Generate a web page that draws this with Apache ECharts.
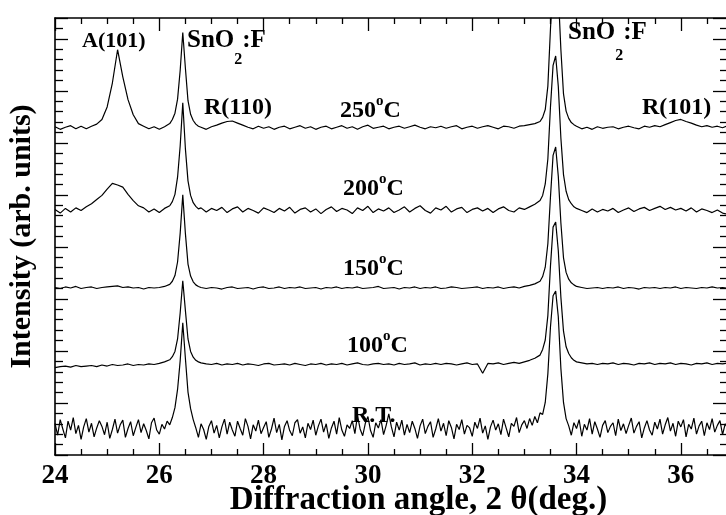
<!DOCTYPE html>
<html>
<head>
<meta charset="utf-8">
<title>XRD patterns</title>
<script src="https://cdn.jsdelivr.net/npm/echarts@6/dist/echarts.min.js"></script>
<style>
	html, body { margin: 0; padding: 0; background: #fff; }
	#chart { width: 726px; height: 515px; }
</style>
</head>
<body>
<div id="chart"></div>
<script>
// 2θ (deg.) sample positions, finer around the SnO2:F peaks
const angles = [
	24.0, 24.1, 24.2, 24.3, 24.4, 24.5, 24.6, 24.7, 24.8, 24.9,
	25.0, 25.1, 25.2, 25.3, 25.4, 25.5, 25.6, 25.7, 25.8, 25.9,
	26.0, 26.1, 26.2, 26.25, 26.3, 26.35, 26.4, 26.45, 26.5, 26.55,
	26.6, 26.65, 26.7, 26.75, 26.8, 26.9, 27.0, 27.1, 27.2, 27.3,
	27.4, 27.5, 27.6, 27.7, 27.8, 27.9, 28.0, 28.1, 28.2, 28.3,
	28.4, 28.5, 28.6, 28.7, 28.8, 28.9, 29.0, 29.1, 29.2, 29.3,
	29.4, 29.5, 29.6, 29.7, 29.8, 29.9, 30.0, 30.1, 30.2, 30.3,
	30.4, 30.5, 30.6, 30.7, 30.8, 30.9, 31.0, 31.1, 31.2, 31.3,
	31.4, 31.5, 31.6, 31.7, 31.8, 31.9, 32.0, 32.1, 32.2, 32.3,
	32.4, 32.5, 32.6, 32.7, 32.8, 32.9, 33.0, 33.1, 33.2, 33.3,
	33.35, 33.4, 33.45, 33.5, 33.55, 33.6, 33.65, 33.7, 33.75, 33.8,
	33.85, 33.9, 33.95, 34.0, 34.1, 34.2, 34.3, 34.4, 34.5, 34.6,
	34.7, 34.8, 34.9, 35.0, 35.1, 35.2, 35.3, 35.4, 35.5, 35.6,
	35.7, 35.8, 35.9, 36.0, 36.1, 36.2, 36.3, 36.4, 36.5, 36.6,
	36.7, 36.8, 36.9, 37.0
];

// the noisy R.T. scan is read on a denser 0.05 deg grid
const anglesRT = [
	24.00, 24.05, 24.10, 24.15, 24.20, 24.25, 24.30, 24.35, 24.40, 24.45, 24.50, 24.55, 24.60, 24.65, 24.70, 24.75, 24.80, 24.85, 24.90, 24.95,
	25.00, 25.05, 25.10, 25.15, 25.20, 25.25, 25.30, 25.35, 25.40, 25.45, 25.50, 25.55, 25.60, 25.65, 25.70, 25.75, 25.80, 25.85, 25.90, 25.95,
	26.00, 26.05, 26.10, 26.15, 26.20, 26.25, 26.30, 26.35, 26.40, 26.45, 26.50, 26.55, 26.60, 26.65, 26.70, 26.75, 26.80, 26.85, 26.90, 26.95,
	27.00, 27.05, 27.10, 27.15, 27.20, 27.25, 27.30, 27.35, 27.40, 27.45, 27.50, 27.55, 27.60, 27.65, 27.70, 27.75, 27.80, 27.85, 27.90, 27.95,
	28.00, 28.05, 28.10, 28.15, 28.20, 28.25, 28.30, 28.35, 28.40, 28.45, 28.50, 28.55, 28.60, 28.65, 28.70, 28.75, 28.80, 28.85, 28.90, 28.95,
	29.00, 29.05, 29.10, 29.15, 29.20, 29.25, 29.30, 29.35, 29.40, 29.45, 29.50, 29.55, 29.60, 29.65, 29.70, 29.75, 29.80, 29.85, 29.90, 29.95,
	30.00, 30.05, 30.10, 30.15, 30.20, 30.25, 30.30, 30.35, 30.40, 30.45, 30.50, 30.55, 30.60, 30.65, 30.70, 30.75, 30.80, 30.85, 30.90, 30.95,
	31.00, 31.05, 31.10, 31.15, 31.20, 31.25, 31.30, 31.35, 31.40, 31.45, 31.50, 31.55, 31.60, 31.65, 31.70, 31.75, 31.80, 31.85, 31.90, 31.95,
	32.00, 32.05, 32.10, 32.15, 32.20, 32.25, 32.30, 32.35, 32.40, 32.45, 32.50, 32.55, 32.60, 32.65, 32.70, 32.75, 32.80, 32.85, 32.90, 32.95,
	33.00, 33.05, 33.10, 33.15, 33.20, 33.25, 33.30, 33.35, 33.40, 33.45, 33.50, 33.55, 33.60, 33.65, 33.70, 33.75, 33.80, 33.85, 33.90, 33.95,
	34.00, 34.05, 34.10, 34.15, 34.20, 34.25, 34.30, 34.35, 34.40, 34.45, 34.50, 34.55, 34.60, 34.65, 34.70, 34.75, 34.80, 34.85, 34.90, 34.95,
	35.00, 35.05, 35.10, 35.15, 35.20, 35.25, 35.30, 35.35, 35.40, 35.45, 35.50, 35.55, 35.60, 35.65, 35.70, 35.75, 35.80, 35.85, 35.90, 35.95,
	36.00, 36.05, 36.10, 36.15, 36.20, 36.25, 36.30, 36.35, 36.40, 36.45, 36.50, 36.55, 36.60, 36.65, 36.70, 36.75, 36.80, 36.85, 36.90, 36.95,
	37.00
];

// intensities (arb. units) above each trace's own baseline
const int250 = [
	0.2, -0.3, 0.1, 0.4, -0.2, 0.3, -0.2, 0.3, 0.7, 1.6,
	4.0, 8.6, 15.0, 9.8, 5.4, 2.5, 0.8, 0.3, -0.2, 0.2,
	-0.3, 0.2, 0.8, 1.6, 2.8, 5.5, 11.0, 18.3, 11.5, 5.2,
	2.6, 1.4, 0.7, 0.3, 0.1, -0.3, 0.2, 0.5, 0.9, 1.2,
	1.3, 0.9, 0.5, 0.1, -0.2, 0.3, -0.1, 0.2, -0.3, 0.1,
	0.3, -0.2, 0.1, 0.4, -0.1, 0.2, -0.3, 0.1, 0.3, -0.2,
	0.1, 0.4, -0.1, 0.2, -0.3, 0.2, 0.5, -0.1, 0.1, 0.3,
	-0.2, 0.1, 0.3, -0.1, 0.2, 0.5, 0.1, -0.2, 0.2, 0.0,
	0.3, -0.1, 0.2, 0.4, -0.2, 0.1, 0.3, -0.1, 0.2, 0.4,
	0.1, -0.2, 0.3, 0.2, -0.1, 0.3, 0.4, 0.6, 0.8, 1.2,
	2.0, 3.5, 8.0, 19.0, 28.0, 32.0, 26.0, 15.0, 6.5, 3.2,
	1.8, 1.0, 0.6, 0.3, -0.2, 0.1, -0.3, 0.2, -0.1, 0.1,
	0.2, -0.2, 0.1, 0.3, 0.0, -0.2, 0.3, 0.1, 0.4, 0.2,
	0.6, 1.0, 1.4, 1.6, 1.2, 0.9, 0.5, 0.2, 0.4, 0.1,
	0.3, 0.0, 0.4, 0.2
];
const int200 = [
	0.3, -0.4, 0.5, -0.2, 0.6, 0.1, 0.8, 1.4, 2.2, 3.0,
	4.2, 5.3, 5.0, 4.6, 3.2, 2.0, 1.0, 0.6, -0.2, 0.4,
	-0.3, 0.5, 1.0, 1.8, 3.2, 6.5, 12.5, 20.8, 12.0, 5.8,
	3.0, 1.6, 0.9, 0.4, 0.6, -0.2, 0.5, 0.1, 0.7, -0.3,
	0.4, 0.8, -0.2, 0.5, 0.1, -0.4, 0.6, 0.2, -0.3, 0.5,
	0.0, 0.7, -0.4, 0.3, 0.6, -0.2, 0.4, -0.5, 0.3, 0.8,
	-0.1, 0.5, 0.2, -0.5, 0.6, 0.1, 0.9, -0.3, 0.4, 0.0,
	0.6, -0.3, 0.2, 0.8, -0.2, 0.5, 1.0, 0.1, -0.4, 0.6,
	0.2, 0.9, -0.2, 0.4, 0.7, -0.3, 0.3, 0.6, 0.0, 0.5,
	-0.3, 0.4, 0.8, 0.1, -0.2, 0.6, 0.3, 0.8, 1.3, 2.0,
	3.0, 5.2, 10.0, 20.0, 28.0, 29.8, 24.0, 14.0, 7.0, 3.8,
	2.2, 1.4, 0.8, 0.5, 0.1, -0.3, 0.4, -0.2, 0.3, 0.0,
	0.5, -0.3, 0.2, 0.6, -0.1, 0.4, 0.7, 0.1, 0.5, 0.9,
	0.3, 0.7, 0.2, 0.5, 0.0, 0.6, -0.2, 0.4, 0.1, -0.3,
	0.2, -0.4, -0.6, -0.5
];
const int150 = [
	0.1, -0.1, 0.2, 0.0, 0.3, -0.1, 0.1, 0.2, -0.1, 0.1,
	0.2, 0.3, 0.4, 0.1, 0.2, 0.0, 0.1, -0.2, 0.1, 0.0,
	0.1, 0.3, 0.7, 1.3, 2.4, 5.0, 10.5, 17.9, 10.5, 4.6,
	2.3, 1.2, 0.6, 0.3, 0.1, -0.1, 0.1, 0.0, -0.2, 0.1,
	0.2, -0.1, 0.0, 0.1, -0.2, 0.1, 0.2, -0.1, 0.0, 0.2,
	-0.1, 0.1, 0.0, 0.2, -0.1, 0.0, 0.1, -0.2, 0.1, 0.0,
	0.2, -0.1, 0.1, 0.0, 0.2, -0.1, 0.0, 0.1, 0.3, -0.1,
	0.0, 0.1, -0.2, 0.1, 0.0, 0.2, -0.1, 0.1, 0.0, 0.2,
	-0.1, 0.0, 0.2, 0.1, -0.1, 0.0, 0.1, 0.2, -0.1, 0.1,
	0.0, 0.2, -0.1, 0.1, 0.2, 0.0, 0.3, 0.5, 0.8, 1.3,
	2.2, 4.0, 8.5, 17.5, 25.5, 27.1, 21.5, 12.5, 5.8, 3.0,
	1.7, 1.0, 0.6, 0.3, 0.1, -0.1, 0.0, 0.1, -0.1, 0.1,
	0.0, 0.2, -0.1, 0.1, 0.0, -0.2, 0.1, 0.0, 0.1, -0.1,
	0.1, 0.0, 0.2, -0.1, 0.1, 0.0, -0.1, 0.1, 0.0, 0.2,
	0.0, 0.1, -0.1, 0.0
];
const int100 = [
	-0.5, -0.3, -0.2, -0.4, -0.1, -0.3, -0.2, -0.1, -0.3, 0.0,
	-0.2, 0.1, -0.1, 0.0, 0.2, -0.1, 0.1, 0.0, 0.2, 0.1,
	0.3, 0.6, 1.0, 1.6, 2.6, 5.0, 10.0, 16.2, 10.5, 5.0,
	2.6, 1.5, 0.9, 0.6, 0.4, 0.2, 0.1, 0.3, 0.0, 0.2,
	0.1, 0.3, 0.0, 0.2, 0.1, -0.1, 0.2, 0.3, 0.0, 0.1,
	0.2, 0.0, 0.3, 0.1, -0.1, 0.2, 0.1, 0.3, 0.0, 0.2,
	0.1, 0.3, 0.0, 0.2, 0.4, 0.1, 0.0, 0.2, 0.3, 0.1,
	0.2, 0.0, 0.3, 0.1, 0.2, 0.4, 0.0, 0.2, 0.1, 0.3,
	0.1, 0.3, 0.2, 0.0, 0.2, 0.4, 0.1, 0.2, -1.6, 0.3,
	0.2, 0.4, 0.1, 0.3, 0.5, 0.3, 0.6, 0.9, 1.3, 1.9,
	3.0, 4.8, 9.5, 19.0, 26.5, 27.5, 22.0, 13.0, 6.5, 3.5,
	2.2, 1.4, 0.9, 0.6, 0.4, 0.2, 0.3, 0.1, 0.3, 0.2,
	0.4, 0.1, 0.3, 0.2, 0.0, 0.3, 0.2, 0.4, 0.1, 0.3,
	0.2, 0.4, 0.1, 0.3, 0.2, 0.0, 0.3, 0.2, 0.4, 0.1,
	0.3, 0.2, 0.4, 0.1
];
const intRT = [
	1.5, -0.8, 2.2, 0.4, -1.3, 1.9, 0.2, 2.6, -0.5, 1.1, -1.6, 0.8, 2.4, -0.2, 1.5, -1.1, 0.6, 2.0, 0.9, -0.7,
	1.7, -1.4, 0.3, 2.3, -0.4, 1.2, 2.1, -1.2, 0.5, 1.8, -0.9, 0.7, 2.2, -0.3, 1.4, 0.1, -1.5, 1.6, 2.5, 0.2,
	-0.6, 1.3, 0.4, 1.9, 1.2, 2.6, 4.5, 8.0, 13.5, 20.8, 14.0, 7.5, 4.3, 2.2, 0.6, -1.2, 1.4, 0.3, -1.6, 0.9,
	2.0, -0.4, 1.1, -1.3, 0.8, 2.3, -0.6, 1.7, 0.2, -1.0, 1.9, 0.5, -0.8, 2.4, 0.9, -1.5, 1.2, 0.0, 2.1, -0.5,
	0.7, 1.8, -1.2, 0.4, 2.5, -0.3, 1.3, -1.7, 0.9, 2.0, 0.1, -0.9, 1.6, 2.2, -0.4, 0.8, -1.3, 1.5, 0.3, 2.1,
	-0.8, 1.0, 2.3, -0.2, 1.4, -1.4, 0.6, 1.9, -0.6, 2.6, 0.2, -1.0, 1.2, 0.5, 2.0, -0.5, 3.0, 0.4, -0.9, 1.5,
	2.8, 0.1, -1.2, 1.6, 0.6, 2.2, -0.7, 1.1, 3.3, 0.8, -1.1, 1.7, 0.2, 2.1, -0.8, 1.3, -0.3, 1.9, 0.5, -1.4,
	1.0, 2.3, -0.5, 0.9, 1.8, -1.2, 0.4, 2.4, 0.0, 1.5, -0.9, 2.0, 0.7, -1.5, 1.3, 0.3, 2.2, -0.6, 1.1, 0.6,
	-1.0, 1.7, 0.5, 2.5, -0.4, 1.0, -1.6, 0.8, 2.1, 0.2, 1.4, -0.7, 2.3, 0.6, -1.1, 1.5, 0.9, 2.6, -0.3, 1.2,
	2.0, 0.5, 2.4, 1.1, 2.8, 1.6, 3.5, 3.2, 5.5, 11.0, 20.0, 26.0, 26.9, 22.0, 12.0, 5.5, 2.4, 1.0, -0.8, 1.6,
	0.5, 2.2, -1.0, 1.3, 0.2, 2.4, -0.6, 1.8, 0.4, -1.2, 1.1, 2.0, -0.3, 0.9, 1.6, -0.9, 2.3, 0.1, 1.4, -0.5,
	1.1, 2.5, -0.4, 0.9, 1.8, -1.3, 0.6, 2.0, 0.2, -0.8, 1.7, 0.4, 2.3, -0.6, 1.2, 2.6, 0.0, 1.5, -1.0, 1.9,
	0.8, 2.2, -1.1, 1.3, 0.4, 2.5, -0.6, 1.0, 1.9, -0.9, 1.6, 0.3, 2.4, -0.2, 1.1, 2.0, -0.7, 1.4, 0.5, 2.1,
	0.6
];

// vertical stacking offset of each trace
const traceNames = ["R.T.", "100C", "150C", "200C", "250C"];
const traceOffsets = [4.6, 17.3, 32.1, 46.9, 62.9];
const traceData = [intRT, int100, int150, int200, int250];
const traceAngles = [anglesRT, angles, angles, angles, angles];

const xTicks = [24, 26, 28, 30, 32, 34, 36];

const FONT = '"Liberation Serif", "Times New Roman", serif';

const series = traceData.map((vals, k) => ({
	name: traceNames[k],
	type: "line",
	showSymbol: false,
	animation: false,
	lineStyle: { color: "#000", width: 1.2 },
	data: traceAngles[k].map((a, i) => [a, vals[i] + traceOffsets[k]])
}));

const tickLine = { lineStyle: { color: "#000", width: 1.3 } };
const baseX = {
	type: "value",
	min: 24,
	max: 37,
	interval: 2,
	splitLine: { show: false },
	axisLine: { onZero: false, lineStyle: { color: "#000", width: 1.6 } }
};
const baseY = {
	type: "value",
	min: 0,
	max: 84,
	interval: 10,
	splitLine: { show: false },
	axisLabel: { show: false },
	axisLine: { show: true, onZero: false, lineStyle: { color: "#000", width: 1.6 } }
};

// text helpers for the peak / temperature labels
const plain = (txt, left, top, size) => ({
	type: "text",
	left: left,
	top: top,
	style: { text: txt, fill: "#000", fontFamily: FONT, fontWeight: "bold", fontSize: size }
});
const richBase = { fontFamily: FONT, fontWeight: "bold", fill: "#000", color: "#000" };
const snLabel = (left, top, drop) => ({
	type: "text",
	left: left,
	top: top,
	style: {
		text: "{m|SnO}{s|2}{m|:F}",
		rich: {
			m: Object.assign({}, richBase, { fontSize: 25, lineHeight: 26, verticalAlign: "top" }),
			s: Object.assign({}, richBase, { fontSize: 16, lineHeight: 16, verticalAlign: "top", padding: [drop, 0, 0, 0] })
		}
	}
});
const tempLabel = (num, left, top) => ({
	type: "text",
	left: left,
	top: top,
	style: {
		text: "{n|" + num + "}{o|o}{n|C}",
		rich: {
			n: Object.assign({}, richBase, { fontSize: 24, lineHeight: 24, padding: [5, 0, 0, 0], verticalAlign: "top" }),
			o: Object.assign({}, richBase, { fontSize: 15, lineHeight: 14, verticalAlign: "top" })
		}
	}
});

const option = {
	backgroundColor: "#fff",
	animation: false,
	grid: { left: 55, top: 18, width: 678, height: 437, outerBoundsMode: "none", containLabel: false },
	xAxis: [
		Object.assign({}, baseX, {
			position: "bottom",
			axisTick: Object.assign({ inside: true, length: 12 }, tickLine),
			minorTick: Object.assign({ show: true, splitNumber: 4, length: 6 }, tickLine),
			axisLabel: {
				color: "#000",
				fontFamily: FONT,
				fontWeight: "bold",
				fontSize: 27,
				margin: 8,
				formatter: v => (xTicks.indexOf(v) >= 0 ? String(v) : "")
			},
			name: "Diffraction angle, 2 θ(deg.)",
			nameLocation: "middle",
			nameGap: 29,
			nameMoveOverlap: false,
			nameTextStyle: {
				color: "#000",
				fontFamily: FONT,
				fontWeight: "bold",
				fontSize: 33,
				padding: [0, 0, 0, 49]
			}
		}),
		Object.assign({}, baseX, {
			position: "top",
			axisTick: Object.assign({ inside: true, length: 13 }, tickLine),
			minorTick: Object.assign({ show: true, splitNumber: 4, length: 6 }, tickLine),
			axisLabel: { show: false }
		})
	],
	yAxis: [
		Object.assign({}, baseY, {
			position: "left",
			axisTick: Object.assign({ inside: true, length: 13 }, tickLine),
			minorTick: Object.assign({ show: true, splitNumber: 5, length: 8 }, tickLine),
			name: "Intensity (arb. units)",
			nameLocation: "middle",
			nameGap: 18,
			nameMoveOverlap: false,
			nameTextStyle: { color: "#000", fontFamily: FONT, fontWeight: "bold", fontSize: 30 }
		}),
		Object.assign({}, baseY, {
			position: "right",
			axisTick: Object.assign({ inside: true, length: 20 }, tickLine),
			minorTick: Object.assign({ show: true, splitNumber: 5, length: 13 }, tickLine)
		})
	],
	graphic: [
		plain("A(101)", 82, 30, 22),
		snLabel(187, 28, 24),
		plain("R(110)", 204, 96, 24),
		tempLabel("250", 340, 94),
		tempLabel("200", 343, 172),
		tempLabel("150", 343, 252),
		tempLabel("100", 347, 329),
		plain("R.T.", 352, 404, 24),
		snLabel(568, 20, 28),
		plain("R(101)", 642, 96, 24)
	],
	series: series
};

const myChart = echarts.init(document.getElementById("chart"), null, { renderer: "canvas" });
myChart.setOption(option);
</script>
</body>
</html>
